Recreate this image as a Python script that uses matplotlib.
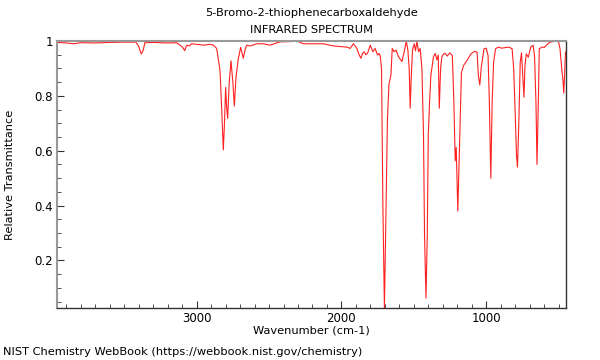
import matplotlib
matplotlib.use("Agg")
import matplotlib.pyplot as plt
from matplotlib.ticker import MultipleLocator

# spectrum (wavenumber cm-1, transmittance)
wavenumber = [3964, 3900, 3850, 3800, 3700, 3600, 3500, 3420, 3400, 3392, 3383, 3369, 3358,
              3300, 3200, 3138, 3115, 3097, 3083, 3069, 3051, 3035, 3000, 2954, 2908, 2885,
              2862, 2839, 2827, 2816, 2808, 2800, 2793, 2786, 2775, 2763, 2750, 2740, 2728,
              2712, 2696, 2678, 2665, 2654, 2631, 2585, 2539, 2493, 2424, 2350, 2308, 2263,
              2170, 2126, 2055, 2009, 1963, 1940, 1917, 1893, 1882, 1866, 1853, 1843, 1832,
              1820, 1801, 1783, 1767, 1751, 1739, 1732, 1723, 1714, 1703, 1691, 1682, 1672,
              1658, 1649, 1635, 1622, 1606, 1582, 1564, 1552, 1541, 1532, 1525, 1518, 1509,
              1497, 1488, 1479, 1467, 1456, 1444, 1433, 1426, 1416, 1407, 1400, 1391, 1382,
              1364, 1352, 1340, 1331, 1324, 1315, 1306, 1294, 1283, 1270, 1251, 1234, 1223,
              1214, 1207, 1196, 1183, 1171, 1157, 1133, 1105, 1082, 1063, 1054, 1044, 1034,
              1015, 1000, 987, 978, 968, 959, 949, 935, 916, 893, 845, 821, 810, 798, 791,
              784, 774, 765, 756, 746, 739, 732, 723, 709, 692, 676, 666, 656, 649, 640, 633,
              614, 597, 581, 562, 519, 500, 490, 478, 470, 464, 458, 452]
transmittance = [0.995, 0.993, 0.99, 0.994, 0.993, 0.995, 0.996, 0.996, 0.98, 0.967, 0.953, 0.967, 0.994,
                 0.995, 0.993, 0.994, 0.985, 0.977, 0.965, 0.985, 0.982, 0.99, 0.988, 0.985, 0.988, 0.985,
                 0.973, 0.894, 0.749, 0.603, 0.70, 0.831, 0.76, 0.718, 0.85, 0.928, 0.85, 0.763, 0.87,
                 0.937, 0.977, 0.937, 0.97, 0.985, 0.982, 0.99, 0.99, 0.985, 0.997, 0.998, 1.0, 0.99,
                 0.99, 0.99, 0.982, 0.98, 0.978, 0.973, 0.99, 0.973, 0.955, 0.937, 0.955, 0.961, 0.95,
                 0.955, 0.985, 0.961, 0.973, 0.949, 0.955, 0.946, 0.90, 0.415, 0.025, 0.415, 0.718, 0.84,
                 0.876, 0.973, 0.961, 0.967, 0.943, 0.925, 0.967, 1.0, 0.967, 0.90, 0.755, 0.864, 0.967,
                 0.99, 0.964, 1.0, 0.961, 0.973, 0.90, 0.658, 0.293, 0.063, 0.293, 0.658, 0.779, 0.876,
                 0.943, 0.955, 0.931, 0.949, 0.755, 0.90, 0.943, 0.953, 0.955, 0.945, 0.957, 0.947, 0.774,
                 0.563, 0.612, 0.38, 0.649, 0.885, 0.91, 0.929, 0.953, 0.962, 0.96, 0.873, 0.84, 0.904,
                 0.972, 0.974, 0.947, 0.773, 0.50, 0.773, 0.922, 0.972, 0.978, 0.974, 0.978, 0.972, 0.898, 0.711, 0.587,
                 0.54, 0.711, 0.922, 0.957, 0.86, 0.795, 0.91, 0.953, 0.941, 0.978, 0.985, 0.947, 0.773, 0.55, 0.773, 0.972,
                 0.978, 0.977, 0.987, 0.995, 1.0, 0.997, 0.972, 0.898, 0.86, 0.81, 0.88, 0.96]

xticks = [3000, 2000, 1000]
yticks = [0.2, 0.4, 0.6, 0.8, 1.0]
ytick_labels = ["0.2", "0.4", "0.6", "0.8", "1"]

fig = plt.figure(figsize=(6, 3.6), dpi=100)
ax = fig.add_axes([0.095, 0.144, 0.848, 0.742])

ax.plot(wavenumber, transmittance, color="#ff2020", linewidth=0.8)

ax.set_xlim(3965, 450)
ax.set_ylim(0.026, 1.0)
ax.set_xticks(xticks)
ax.xaxis.set_minor_locator(MultipleLocator(100))
ax.set_yticks(yticks, labels=ytick_labels)
ax.yaxis.set_minor_locator(MultipleLocator(0.05))
ax.tick_params(which="both", direction="in", labelsize=8.5, color="#333333", pad=3)
ax.tick_params(which="major", length=5)
ax.tick_params(which="minor", length=3)

for side in ["top", "left"]:
    ax.spines[side].set_color("#999999")
    ax.spines[side].set_linewidth(1.5)
for side in ["bottom", "right"]:
    ax.spines[side].set_color("#333333")
    ax.spines[side].set_linewidth(1.0)

fs = 8.2
fig.text(0.519, 0.964, "5-Bromo-2-thiophenecarboxaldehyde", ha="center", va="center", fontsize=fs)
fig.text(0.519, 0.917, "INFRARED SPECTRUM", ha="center", va="center", fontsize=fs)
fig.text(0.519, 0.081, "Wavenumber (cm-1)", ha="center", va="center", fontsize=fs)
fig.text(0.017, 0.515, "Relative Transmittance", ha="center", va="center", rotation=90, fontsize=fs)
fig.text(0.005, 0.022, "NIST Chemistry WebBook (https://webbook.nist.gov/chemistry)",
         ha="left", va="center", fontsize=fs)

fig.savefig("out.png", dpi=100)
